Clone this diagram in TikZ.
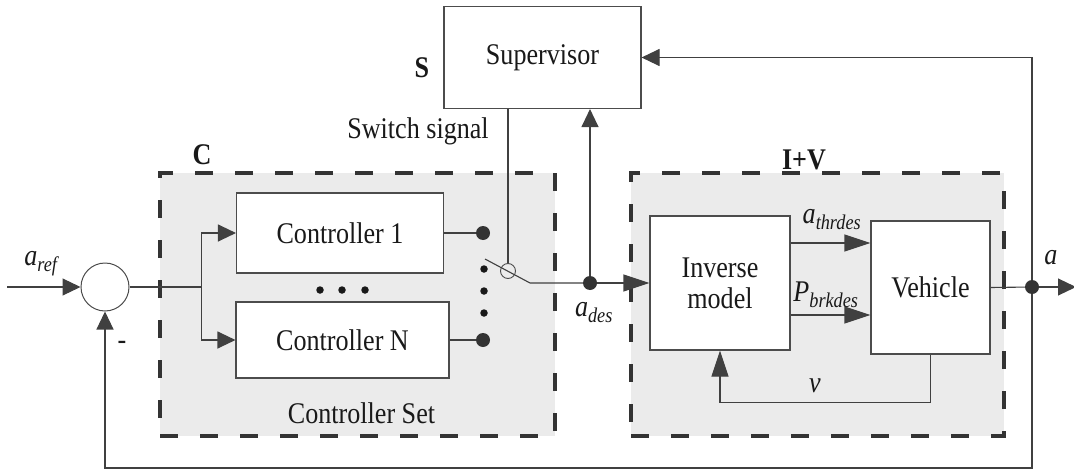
\documentclass[tikz,border=0pt]{standalone}
\usepackage{fontspec}
\setmainfont{Liberation Serif}[FakeStretch=0.87]
\usetikzlibrary{arrows.meta}
\newcommand{\sbs}[2]{\textit{#1}\textsubscript{\textit{#2}}}
\begin{document}
\begin{tikzpicture}[x=1pt,y=-1pt,
  every node/.style={font=\fontsize{30}{31}\selectfont, text=black!90},
  line/.style={draw=black!75, line width=1.1pt},
  blk/.style={draw=black!70, line width=1.1pt, fill=white, inner sep=0pt},
  grp/.style={draw=black!80, fill=black!8, line width=3.5pt, dash pattern=on 18pt off 22pt, inner sep=0pt},
  arr/.style={line, -{Triangle[length=18pt,width=17pt]}},
  arrL/.style={line, -{Triangle[length=26pt,width=17pt]}},
  bigdot/.style={circle, fill=black!80, inner sep=0pt, minimum size=14pt},
  smalldot/.style={circle, fill=black!90, inner sep=0pt, minimum size=7.5pt}]
\useasboundingbox (0,0) rectangle (1074,471);

% groups
\node[grp, minimum width=395pt, minimum height=263pt] (Cset) at (357.5,304.5) {};
\node[grp, minimum width=373pt, minimum height=263pt] (IV) at (817.5,304.5) {};

% blocks
\node[blk, minimum width=197pt, minimum height=102pt] (sup) at (542.5,57.5) {Supervisor};
\node[blk, minimum width=207pt, minimum height=80pt] (c1) at (340,233) {Controller 1};
\node[blk, minimum width=213pt, minimum height=76pt] (cN) at (342.5,340) {Controller N};
\node[blk, minimum width=140pt, minimum height=134pt, align=center] (inv) at (720,283) {Inverse\\model};
\node[blk, minimum width=119pt, minimum height=133pt] (veh) at (930.5,287.5) {Vehicle};
\node[circle, draw=black!70, line width=1pt, minimum size=48pt, inner sep=0pt] (sum) at (105,287) {};

% labels
\node (lS) at (422,68) {\textbf{S}};
\node (lC) at (202,155) {\textbf{C}};
\node (lIV) at (804,160) {\textbf{I+V}};
\node (lsw) at (418,131) {Switch signal};
\node (lset) at (361.5,413) {Controller Set};
\node (lref) at (42,264) {\sbs{a}{ref}};
\node (lminus) at (122,345) {-};
\node (ldes) at (594,313) {\sbs{a}{des}};
\node (lthr) at (832,220) {\sbs{a}{thrdes}};
\node (lbrk) at (826,295) {\sbs{P}{brkdes}};
\node (lv) at (815,386) {\textit{v}};
\node (la) at (1051,258) {\textit{a}};

% dots
\node[bigdot] (d1) at (483,233) {};
\node[bigdot] (dN) at (483,340) {};
\node[smalldot] (s1) at (484,269) {};
\node[smalldot] (s2) at (484,291) {};
\node[smalldot] (s3) at (484,313) {};
\node[smalldot] (h1) at (320,290) {};
\node[smalldot] (h2) at (342,290) {};
\node[smalldot] (h3) at (365,290) {};
\node[bigdot] (ad) at (590,283) {};
\node[bigdot] (ao) at (1032,287) {};

% switch
\node[circle, draw=black!70, line width=0.9pt, minimum size=15pt, inner sep=0pt] (sw) at (508,271) {};
\coordinate (bl1) at (485,259);
\coordinate (bl2) at (530,283);

% input and branch
\coordinate (in) at (7,287);
\coordinate (br) at (201.5,287);
\draw[arr] (in) -- (sum.west);
\draw[line] (sum.east) -- (br);
\draw[arr] (br) |- (c1.west);
\draw[arr] (br) |- (cN.west);
\draw[line] (c1.east) -- (d1);
\draw[line] (cN.east) -- (dN);

% switch and a_des
\draw[line] (sup.south -| sw) -- (sw.north);
\draw[line] (bl1) -- (bl2) -- (ad);
\draw[arrL] (ad) -- (inv.west);
\draw[arr] (ad) -- (ad |- sup.south);

% inner I+V
\draw[arrL] ([yshift=40pt]inv.east) coordinate (t1) -- (t1 -| veh.west);
\draw[arrL] ([yshift=-32pt]inv.east) coordinate (t2) -- (t2 -| veh.west);
\draw[arrL] (veh.south) -- ++(0,48) -| (inv.south);

% output and feedbacks
\coordinate (out) at (1076,287);
\coordinate (fb) at (1032,468);
\draw[line] (veh.east) -- (ao);
\draw[arr] (ao) -- (out);
\draw[arr] (ao) -- (fb) -| (sum.south);
\draw[arr] (ao) |- (sup.east);
\end{tikzpicture}
\end{document}
